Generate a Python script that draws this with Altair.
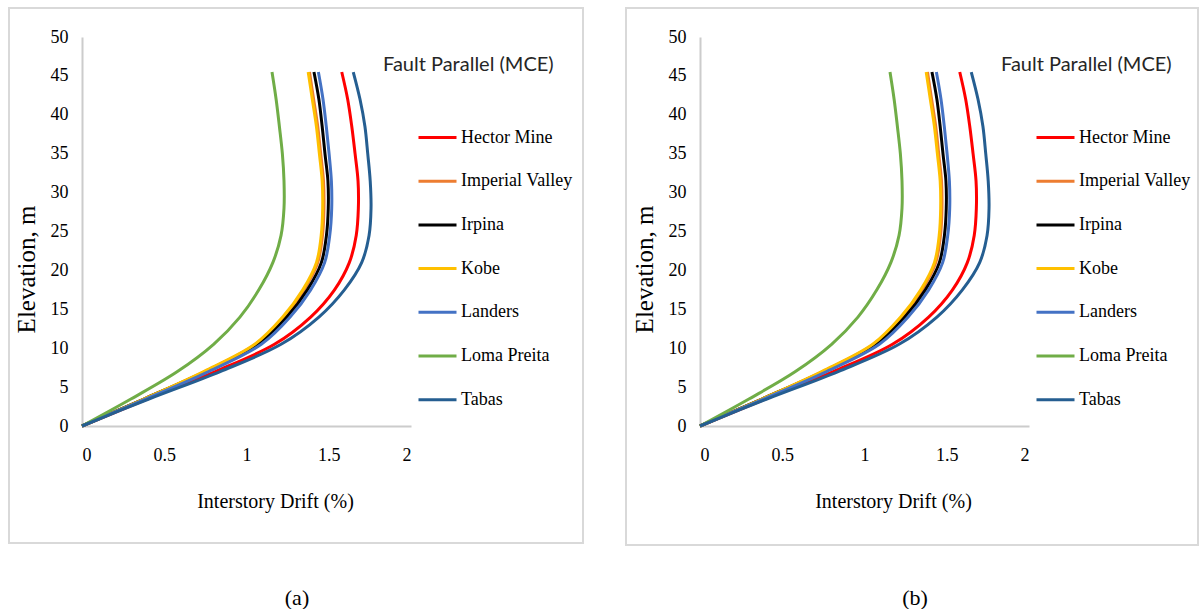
import altair as alt
import pandas as pd

# Storey elevations (m) and peak interstory drift (%) for each record
elevation = [0, 3.5, 7, 10.5, 14, 17.5, 21, 24.5, 28, 31.5, 35, 38.5, 42, 45.5]
hector_mine = [0, 0.40, 0.81, 1.17, 1.39, 1.535, 1.625, 1.667, 1.68, 1.678, 1.66, 1.64, 1.615, 1.579]
imperial_valley = [0, 0.38, 0.745, 1.055, 1.228, 1.35, 1.433, 1.462, 1.471, 1.468, 1.451, 1.433, 1.408, 1.383]
irpina = [0, 0.38, 0.75, 1.07, 1.245, 1.37, 1.455, 1.486, 1.497, 1.495, 1.477, 1.46, 1.44, 1.41]
kobe = [0, 0.38, 0.74, 1.05, 1.22, 1.342, 1.425, 1.454, 1.463, 1.46, 1.443, 1.425, 1.40, 1.375]
landers = [0, 0.39, 0.77, 1.09, 1.265, 1.39, 1.475, 1.506, 1.518, 1.516, 1.502, 1.485, 1.465, 1.437]
loma_preita = [0, 0.30, 0.58, 0.80, 0.96, 1.075, 1.16, 1.21, 1.228, 1.228, 1.218, 1.20, 1.18, 1.155]
tabas = [0, 0.41, 0.84, 1.21, 1.44, 1.595, 1.70, 1.745, 1.757, 1.752, 1.737, 1.72, 1.69, 1.649]

records = ["Hector Mine", "Imperial Valley", "Irpina", "Kobe", "Landers", "Loma Preita", "Tabas"]
drifts = [hector_mine, imperial_valley, irpina, kobe, landers, loma_preita, tabas]
colors = ["#FF0000", "#ED7D31", "#000000", "#FFC000", "#4472C4", "#70AD47", "#255E91"]

x_ticks = [0, 0.5, 1, 1.5, 2]
y_ticks = [0, 5, 10, 15, 20, 25, 30, 35, 40, 45, 50]

rows = []
for order, (name, series) in enumerate(zip(records, drifts)):
    for z, d in zip(elevation, series):
        rows.append({"record": name, "order": order, "elevation": z, "drift": d})
df = pd.DataFrame(rows)

SERIF = "Liberation Serif"
PLOT_W, PLOT_H = 329, 389


def panel(caption, frame):
    left, right, top, bottom = frame
    one = pd.DataFrame({"k": [0]})

    border = alt.Chart(one).mark_rect(
        fill="white", fillOpacity=0, stroke="#d9d9d9", strokeWidth=2
    ).encode(
        x=alt.value(left), x2=alt.value(right), y=alt.value(top), y2=alt.value(bottom)
    )

    lines = alt.Chart(df).mark_line(
        strokeWidth=3, interpolate="catmull-rom"
    ).encode(
        x=alt.X(
            "drift:Q",
            scale=alt.Scale(domain=[0, 2], nice=False),
            axis=alt.Axis(
                title="Interstory Drift (%)", values=x_ticks,
                labelExpr="toString(datum.value)",
                grid=False, ticks=False, domainColor="#cccccc", domainWidth=2,
                labelFont=SERIF, labelFontSize=18, labelColor="#000000", labelPadding=20,
                titleFont=SERIF, titleFontSize=20, titleFontWeight="normal",
                titleColor="#000000", titlePadding=27, titleX=193,
            ),
        ),
        y=alt.Y(
            "elevation:Q",
            scale=alt.Scale(domain=[0, 50], nice=False),
            axis=alt.Axis(
                title="Elevation, m", values=y_ticks,
                grid=False, ticks=False, domainColor="#cccccc", domainWidth=2,
                labelFont=SERIF, labelFontSize=18, labelColor="#000000", labelPadding=14,
                titleFont=SERIF, titleFontSize=25, titleFontWeight="normal",
                titleColor="#000000", titlePadding=11, titleY=232,
            ),
        ),
        color=alt.Color(
            "record:N",
            scale=alt.Scale(domain=records, range=colors),
            legend=alt.Legend(
                title=None, orient="none", legendX=335, legendY=80,
                symbolType="stroke", symbolSize=1444, symbolStrokeWidth=3,
                labelFont=SERIF, labelFontSize=18, labelColor="#000000",
                labelOffset=3, rowPadding=13.7, padding=0,
            ),
        ),
        detail="record:N",
        order=alt.Order("elevation:Q"),
    )

    heading = alt.Chart(one).mark_text(
        align="left", baseline="middle", font="Lato", fontSize=20, color="#262626"
    ).encode(x=alt.value(301), y=alt.value(28), text=alt.value("Fault Parallel (MCE)"))

    label = alt.Chart(one).mark_text(
        align="center", baseline="middle", font=SERIF, fontSize=22, color="#000000"
    ).encode(x=alt.value(215), y=alt.value(561), text=alt.value(caption))

    return alt.layer(border, lines, heading, label).properties(width=PLOT_W, height=PLOT_H)


chart = alt.hconcat(
    panel("(a)", (-73, 501, -29, 506)),
    panel("(b)", (-74, 498, -29, 508)),
    spacing=41,
).resolve_legend(color="independent").properties(
    padding={"left": 8, "top": 7, "right": 0, "bottom": 0},
    background="white",
).configure_view(
    stroke=None
).configure_axis(
    labelFont=SERIF, titleFont=SERIF
).configure_legend(
    labelFont=SERIF
)

chart.save("out.html", embed_options={"renderer": "svg", "actions": False})
